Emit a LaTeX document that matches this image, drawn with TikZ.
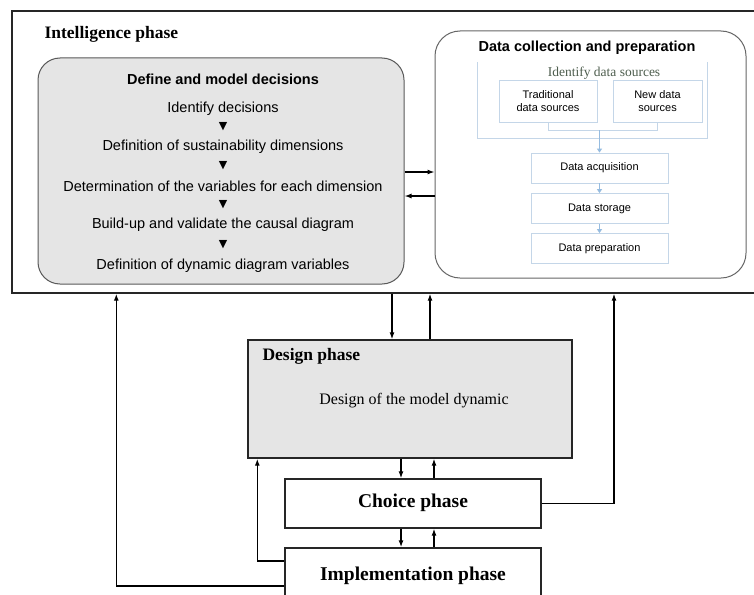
\documentclass[tikz,border=0pt]{standalone}
\usepackage{fontspec}
\setmainfont{Liberation Serif}
\setsansfont{Liberation Sans}
\newfontfamily\symfont{DejaVu Sans}
\usetikzlibrary{arrows.meta, positioning}
\definecolor{srcblue}{RGB}{196, 214, 232}
\definecolor{arrowblue}{RGB}{150, 188, 224}
\definecolor{srctext}{RGB}{78, 94, 78}
\tikzset{
  phasebox/.style={draw=black!85, line width=1.4pt, fill=white},
  stagebox/.style={draw=black!65, line width=1pt, fill=gray!20},
  srcbox/.style={draw=srcblue, line width=0.8pt, fill=white, align=center, font=\sffamily\fontsize{11}{13}\selectfont},
  link/.style={line width=1.3pt, -{Latex[length=7pt,width=5pt]}},
  srclink/.style={draw=arrowblue, line width=0.8pt, -{Triangle[length=4pt,width=5pt]}},
  steptext/.style={font=\sffamily\fontsize{14.5}{17}\selectfont},
  downmark/.style={font=\symfont\fontsize{11}{13}\selectfont},
  titlesans/.style={font=\sffamily\bfseries\fontsize{14.5}{17}\selectfont},
  titleserif/.style={font=\bfseries\fontsize{17.5}{20}\selectfont}
}

\begin{document}
\begin{tikzpicture}[x=1pt, y=-1pt]
  \useasboundingbox[fill=white] (0,0) rectangle (754,594);

  \node[phasebox, minimum width=746pt, minimum height=282pt] (intel) at (385,152) {};
  \node[titleserif, anchor=west] (inteltitle) at (41,34) {Intelligence phase};

  \node[stagebox, rounded corners=22pt, minimum width=366pt, minimum height=226pt] (define) at (221,171) {};
  \node[titlesans] (definetitle) at (223,79) {Define and model decisions};
  \node[steptext] (decisions) at (223,109) {Identify decisions};
  \node[downmark] at (223,127) {▼};
  \node[steptext] (dimensions) at (223,147) {Definition of sustainability dimensions};
  \node[downmark] at (223,166) {▼};
  \node[steptext] (variables) at (223,186) {Determination of the variables for each dimension};
  \node[downmark] at (223,205) {▼};
  \node[steptext] (causal) at (223,225) {Build-up and validate the causal diagram};
  \node[downmark] at (223,245) {▼};
  \node[steptext] (dynamic) at (223,266) {Definition of dynamic diagram variables};

  \node[draw=black!60, line width=1pt, fill=white, rounded corners=25pt, minimum width=311pt, minimum height=247pt] (collect) at (590.5,154.5) {};
  \node[titlesans] (collecttitle) at (587,48) {Data collection and preparation};
  \draw[srcblue, line width=0.8pt] (477,62) -- (477,138) -- (707,138) -- (707,62);
  \node[text=srctext, font=\fontsize{13.5}{16}\selectfont] (sources) at (604,73) {Identify data sources};
  \node[srcbox, minimum width=98pt, minimum height=42pt] (trad) at (548,101) {Traditional\\data sources};
  \node[srcbox, minimum width=89pt, minimum height=42pt] (new) at (657.5,101) {New data\\sources};
  \node[srcbox, minimum width=137pt, minimum height=30pt] (acq) at (599.5,168) {Data acquisition};
  \node[srcbox, minimum width=137pt, minimum height=30pt] (store) at (599.5,208.5) {Data storage};
  \node[srcbox, minimum width=137pt, minimum height=30pt] (prep) at (599.5,248.5) {Data preparation};
  \draw[srcblue, line width=0.8pt] (trad.south) -- ++(0,8) -| (new.south);
  \draw[srclink] ([yshift=-8pt]acq.north |- trad.south) -- (acq.north);
  \draw[srclink] (acq) -- (store);
  \draw[srclink] (store) -- (prep);

  \draw[link] ([yshift=-1pt]define.east) -- ([yshift=-1pt]define.east -| collect.west);
  \draw[link] ([yshift=-25pt]define.east -| collect.west) -- ([yshift=-25pt]define.east);

  \node[phasebox, fill=gray!20, minimum width=324pt, minimum height=118pt] (design) at (410,399) {};
  \node[titleserif, anchor=west] (designtitle) at (259,356) {Design phase};
  \node[font=\fontsize{16}{19}\selectfont] (designtext) at (414,401) {Design of the model dynamic};

  \node[phasebox, minimum width=256pt, minimum height=49pt] (choice) at (413,503.5) {};
  \node[font=\bfseries\fontsize{19.5}{23}\selectfont] (choicetext) at (413,503) {Choice phase};

  \node[phasebox, minimum width=256pt, minimum height=64pt] (impl) at (413,580) {};
  \node[font=\bfseries\fontsize{19.5}{23}\selectfont] (impltext) at (413,576) {Implementation phase};

  \draw[link] ([xshift=-18pt]design.north |- intel.south) -- ([xshift=-18pt]design.north);
  \draw[link] ([xshift=20pt]design.north) -- ([xshift=20pt]design.north |- intel.south);
  \draw[link] ([xshift=-12pt]choice.north |- design.south) -- ([xshift=-12pt]choice.north);
  \draw[link] ([xshift=21pt]choice.north) -- ([xshift=21pt]choice.north |- design.south);
  \draw[link, line width=1.8pt] ([xshift=-12pt]impl.north |- choice.south) -- ([xshift=-12pt]impl.north);
  \draw[link] ([xshift=21pt]impl.north) -- ([xshift=21pt]impl.north |- choice.south);

  \draw[link] ([yshift=19pt]impl.west) -| ([xshift=10pt]design.south west);
  \draw[link] ([yshift=-6pt]impl.west) -| ([xshift=105pt]intel.south west);
  \draw[link] (choice.east) -| ([xshift=229pt]intel.south);
\end{tikzpicture}
\end{document}
